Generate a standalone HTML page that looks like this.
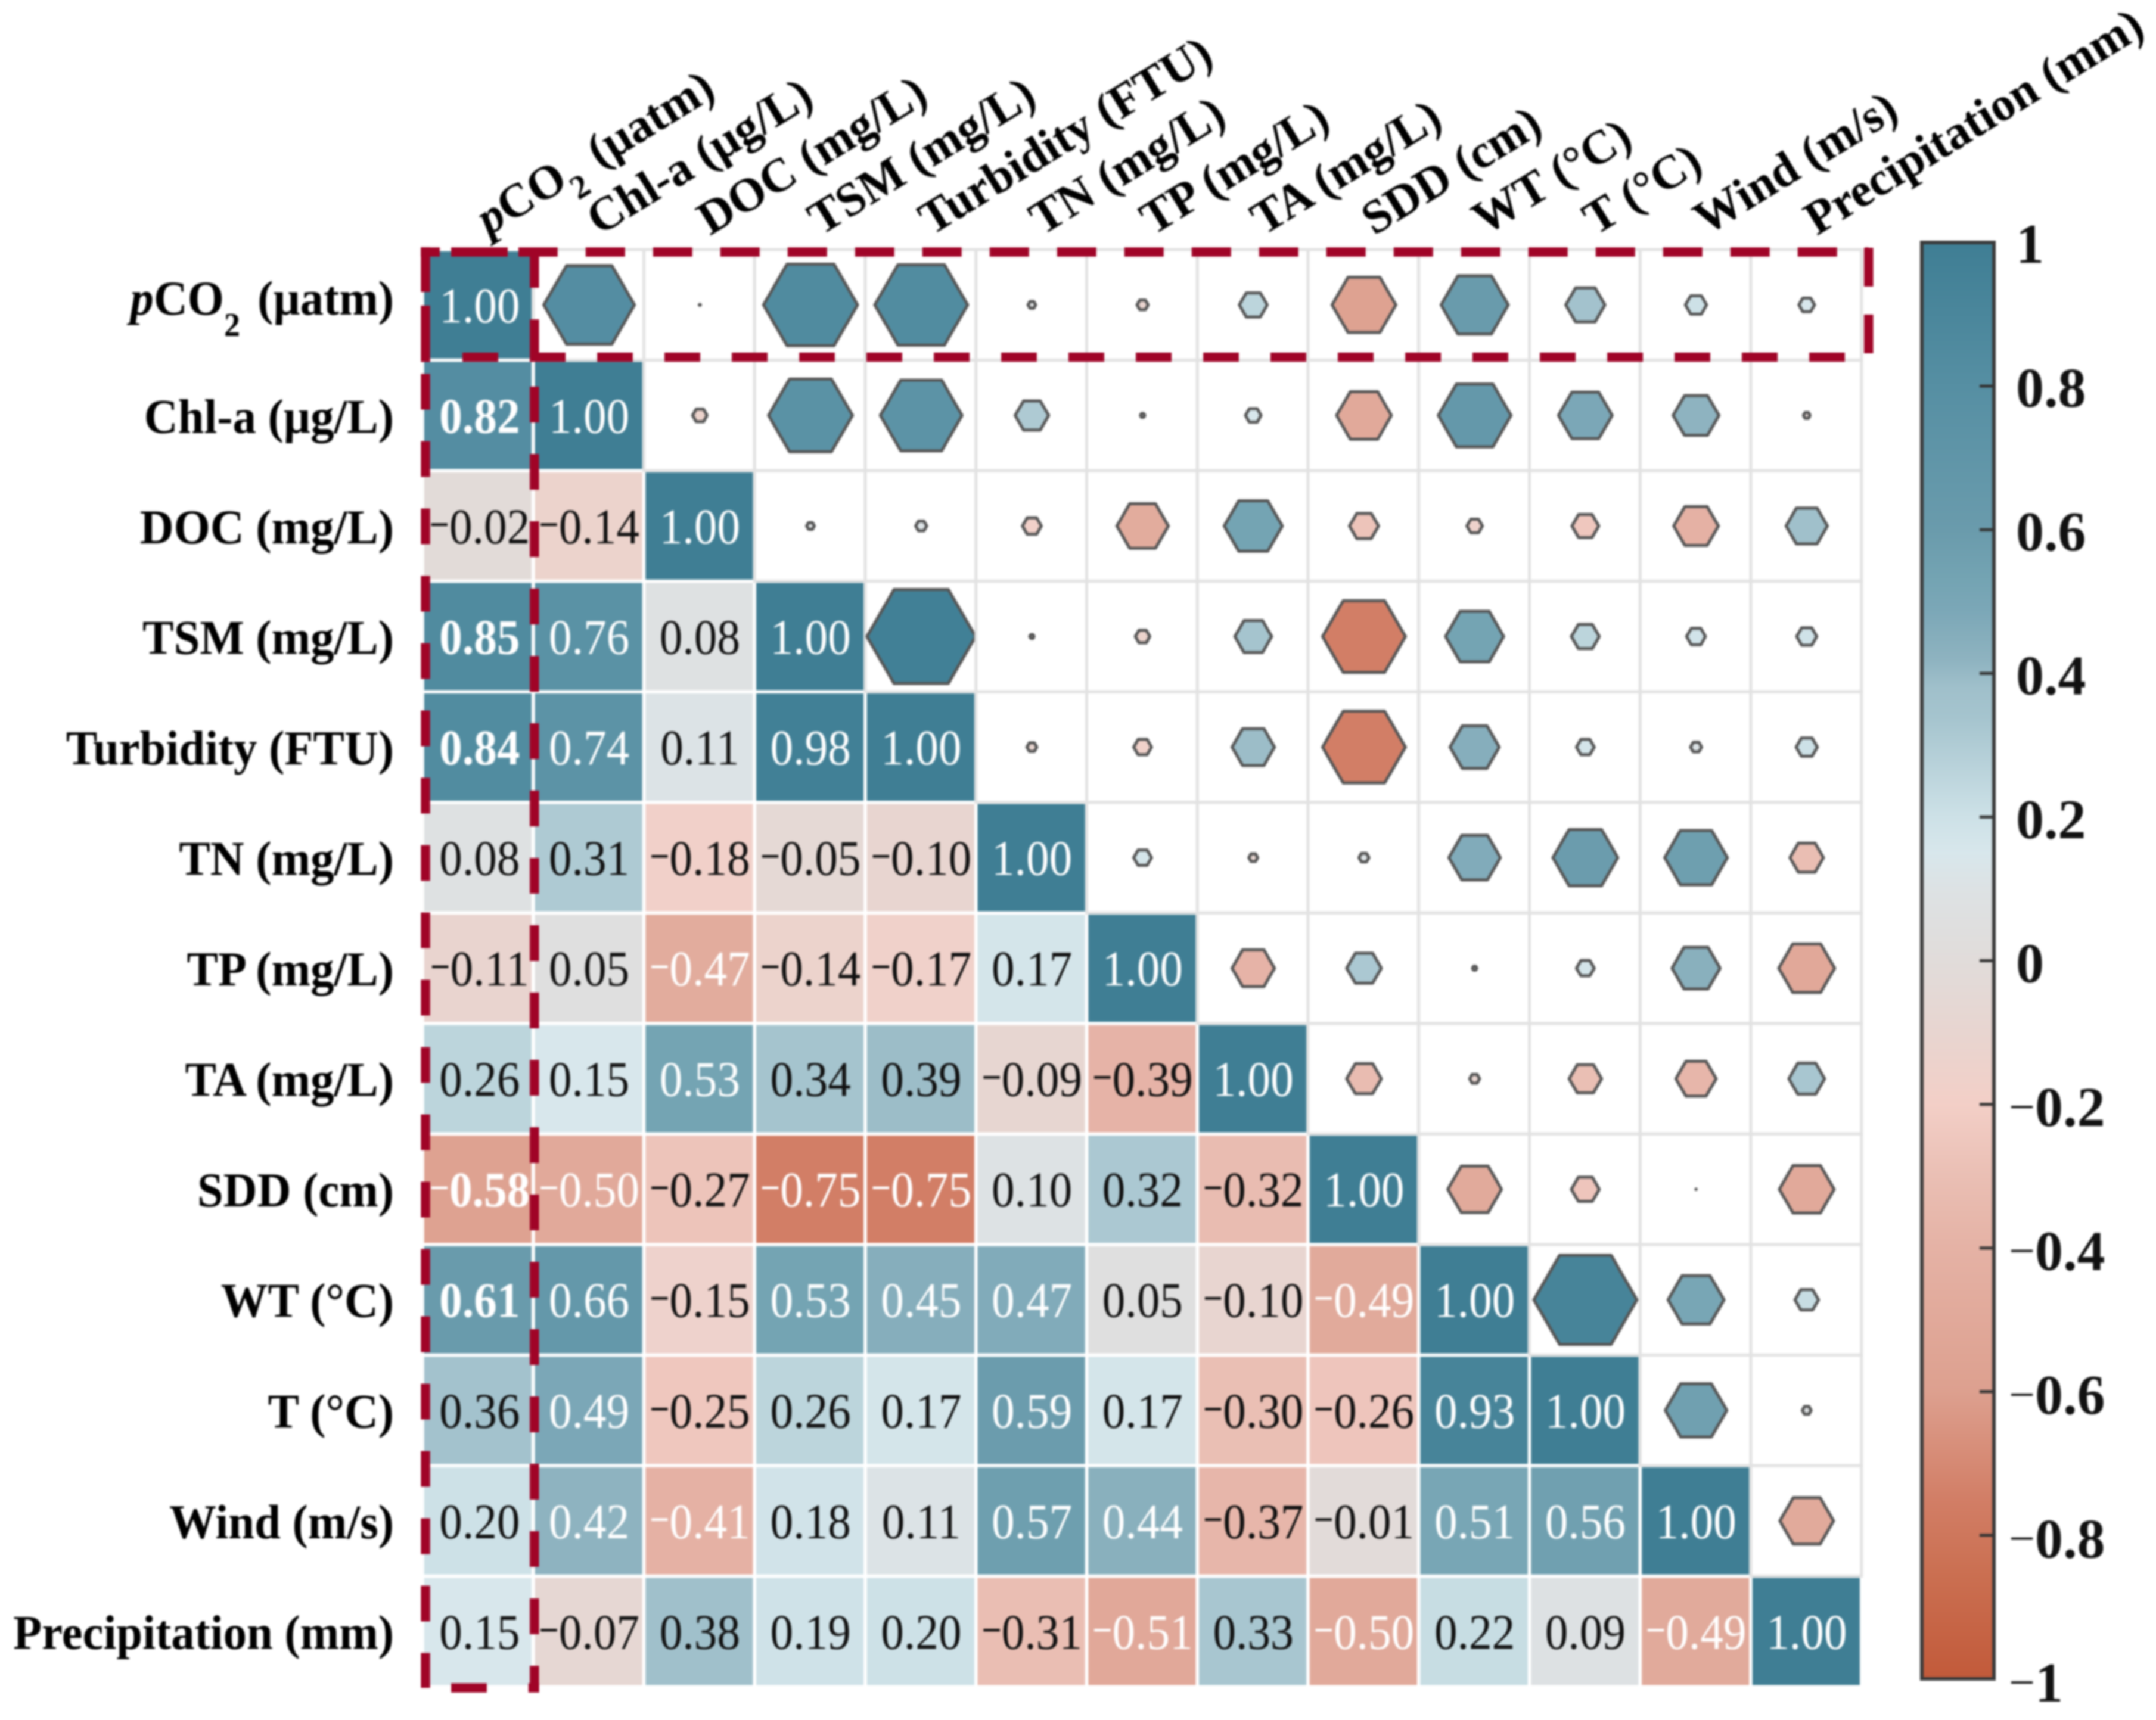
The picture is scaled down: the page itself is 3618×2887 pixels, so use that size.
<!DOCTYPE html>
<html lang="en">
<head>
<meta charset="utf-8">
<title>Correlation matrix</title>
<style>
html,body{margin:0;padding:0;background:#fff;width:3618px;height:2887px;overflow:hidden}
svg{display:block;filter:blur(1.6px)}
text{font-family:"Liberation Serif",serif}
</style>
</head>
<body>
<svg id="chart" xmlns="http://www.w3.org/2000/svg" width="3618" height="2887" viewBox="0 0 3618 2887">
  <defs>
    <linearGradient id="cbGrad" x1="0" y1="0" x2="0" y2="1"></linearGradient>
  </defs>
  <rect x="0" y="0" width="3618" height="2887" fill="#fff"></rect>
  <g id="cells"></g>
  <g id="ylabels"></g>
  <g id="xlabels"></g>
  <g id="highlight"></g>
  <g id="colorbar"></g>
</svg>
<script>
const categories = ["pCO2 (µatm)","Chl-a (µg/L)","DOC (mg/L)","TSM (mg/L)","Turbidity (FTU)","TN (mg/L)","TP (mg/L)","TA (mg/L)","SDD (cm)","WT (°C)","T (°C)","Wind (m/s)","Precipitation (mm)"];
const rowPco2 = [1];
const rowChla = [0.82,1];
const rowDoc = [-0.02,-0.14,1];
const rowTsm = [0.85,0.76,0.08,1];
const rowTurbidity = [0.84,0.74,0.11,0.98,1];
const rowTn = [0.08,0.31,-0.18,-0.05,-0.10,1];
const rowTp = [-0.11,0.05,-0.47,-0.14,-0.17,0.17,1];
const rowTa = [0.26,0.15,0.53,0.34,0.39,-0.09,-0.39,1];
const rowSdd = [-0.58,-0.50,-0.27,-0.75,-0.75,0.10,0.32,-0.32,1];
const rowWt = [0.61,0.66,-0.15,0.53,0.45,0.47,0.05,-0.10,-0.49,1];
const rowT = [0.36,0.49,-0.25,0.26,0.17,0.59,0.17,-0.30,-0.26,0.93,1];
const rowWind = [0.20,0.42,-0.41,0.18,0.11,0.57,0.44,-0.37,-0.01,0.51,0.56,1];
const rowPrecip = [0.15,-0.07,0.38,0.19,0.20,-0.31,-0.51,0.33,-0.50,0.22,0.09,-0.49,1];
const lowerTriangle = [rowPco2,rowChla,rowDoc,rowTsm,rowTurbidity,rowTn,rowTp,rowTa,rowSdd,rowWt,rowT,rowWind,rowPrecip];
const boldFirstColumnRows = [1,3,4,8,9];
const colorbarTicks = [1,0.8,0.6,0.4,0.2,0,-0.2,-0.4,-0.6,-0.8,-1];
const colormapValues = [1,0.8,0.66,0.6,0.53,0.49,0.45,0.42,0.38,0.34,0.2,0.15,0.1,0,-0.1,-0.2,-0.3,-0.4,-0.6,-0.75,-0.85,-1];
const colormapColors = ["#3f7e94","#568fa3","#6498aa","#6a9bac","#74a4b3","#7ba7b7","#86aebc","#8eb3c0","#a0c0cb","#a5c4ce","#cde1e7","#d8e7ec","#dde2e4","#e1dcda","#e8d5d0","#f3cfc7","#eabfb4","#e5b2a5","#dda08f","#d27e66","#cb7052","#c25a3a"];

const SVGNS = "http://www.w3.org/2000/svg";
function make(tag, parent) {
  const el = document.createElementNS(SVGNS, tag);
  parent.appendChild(el);
  return el;
}
function attrs(el, o) { for (const k in o) el.setAttribute(k, o[k]); return el; }

/* axis functions */
const gridX0 = 709, cellW = 185.75, gridY0 = 419, cellH = 185.55;
function xScale(i) { return gridX0 + i * cellW; }
function yScale(i) { return gridY0 + i * cellH; }
const cbTop = 407, cbBottom = 2818, cbLeft = 3225, cbRight = 3346;
function cbY(v) { return cbTop + (1 - v) / 2 * (cbBottom - cbTop); }
function hexOuter(r) { return 94 * Math.abs(r) + 1.5; }

function hexToRgb(h) { return [1,3,5].map(i => parseInt(h.substr(i,2),16)); }
function colorOf(v) {
  for (let i = 0; i < colormapValues.length - 1; i++) {
    const a = colormapValues[i], b = colormapValues[i+1];
    if (v <= a && v >= b) {
      const t = (a - v) / (a - b);
      const ca = hexToRgb(colormapColors[i]), cb = hexToRgb(colormapColors[i+1]);
      return "rgb(" + ca.map((c,k) => Math.round(c + (cb[k]-c)*t)).join(",") + ")";
    }
  }
  return "#fff";
}
function fmt(v) { return Math.abs(v).toFixed(2); }

const cellsG = document.getElementById("cells");
const n = categories.length;

/* upper triangle first so the gray grid sits under coloured cells */
for (let r = 0; r < n; r++) {
  for (let c = r + 1; c < n; c++) {
    const v = lowerTriangle[c][r];
    const frame = make("rect", cellsG);
    attrs(frame, {x:xScale(c), y:yScale(r), width:cellW, height:cellH, fill:"#fff", stroke:"#e2e2e2", "stroke-width":5});
    
    
    const cx = xScale(c) + cellW/2 + 1, cy = yScale(r) + cellH/2;
    const R = Math.max(hexOuter(v) - 2.5, 0.3);
    const pts = [];
    for (let k = 0; k < 6; k++) {
      const a = Math.PI / 3 * k;
      pts.push((cx + R*Math.cos(a)).toFixed(1) + "," + (cy + R*Math.sin(a)).toFixed(1));
    }
    const hex = make("polygon", cellsG);
    attrs(hex, {points:pts.join(" "), fill:colorOf(v), stroke:"#555", "stroke-width":5, "stroke-linejoin":"round"});
    
    
  }
}
/* lower triangle coloured cells with values */
for (let r = 0; r < n; r++) {
  for (let c = 0; c <= r; c++) {
    const v = lowerTriangle[r][c];
    const cell = make("rect", cellsG);
    attrs(cell, {x:xScale(c)+2.8, y:yScale(r)+2.8, width:cellW-5.6, height:cellH-5.6, fill:colorOf(v)});
    
    
    const cx = xScale(c) + cellW/2 + (c === 0 ? 3 : 1), base = yScale(r) + cellH/2 + 29;
    const t = make("text", cellsG);
    attrs(t, {transform:"translate("+cx+","+base+") scale(0.92,1)", "text-anchor":"middle", "font-size":84,
      fill: Math.abs(v) >= 0.4 ? "#fff" : "#111"});
    if (c === 0 && boldFirstColumnRows.includes(r)) t.setAttribute("font-weight","bold");
    
    
    if (v < 0) {
      const m = make("tspan", t);
      attrs(m, {"font-size":64, "font-weight":"bold", dy:-10});
      m.textContent = "\u2212";
      const d = make("tspan", t);
      attrs(d, {dy:10});
      d.textContent = fmt(v);
    } else {
      t.textContent = fmt(v);
    }
  }
}

/* category label writer: handles pCO2 italic + subscript */
function writeLabel(t, label, subDrop) {
  if (label.startsWith("pCO2")) {
    const a = make("tspan", t);
    attrs(a, {"font-style":"italic"});
    a.textContent = "p";
    const b = make("tspan", t);
    b.textContent = "CO";
    const s = make("tspan", t);
    attrs(s, {"font-size":56, dy:subDrop});
    s.textContent = "2";
    const e = make("tspan", t);
    attrs(e, {dy:-subDrop, dx:10});
    e.textContent = label.slice(4);
  } else {
    t.textContent = label;
  }
}

const ylab = document.getElementById("ylabels");
categories.forEach((label, i) => {
  const base = yScale(i) + cellH/2 + (i === 0 ? 16 : 29);
  const t = make("text", ylab);
  attrs(t, {transform:"translate(661,"+base+") scale(0.96,1)", "text-anchor":"end", "font-size":82, "font-weight":"bold", fill:"#000"});
  
  
  writeLabel(t, label, 36);
});

const xlab = document.getElementById("xlabels");
categories.forEach((label, i) => {
  const px = xScale(i) + cellW/2 + 18;
  const t = make("text", xlab);
  attrs(t, {transform:"translate("+px+",396) rotate(-31.5)", "text-anchor":"start", "font-size":80, "font-weight":"bold", fill:"#000"});
  
  
  writeLabel(t, label, 28);
});

/* red dashed highlight: first column and first row */
const hi = document.getElementById("highlight");
const redLeft = xScale(0) + 5, redRight = xScale(1) + 2, redTop = yScale(0) + 4, redBottom = yScale(1) - 5;
const redEnd = yScale(n) + 2, rowEnd = xScale(n) + 12;
function redLine(x1,y1,x2,y2,dash,name) {
  const l = make("line", hi);
  attrs(l, {x1:x1, y1:y1, x2:x2, y2:y2, stroke:"#a00427", "stroke-width":15.5, "stroke-dasharray":dash});
  
  
}
redLine(redLeft-8, redTop, redRight+39, redTop, "32 19 95 18 66 2000", "highlight-top-left-edge");
redLine(redRight+86, redTop, rowEnd, redTop, "66 47", "highlight-top-edge");
redLine(redLeft+62, redBottom, rowEnd-40, redBottom, "60 53", "highlight-row-bottom-edge");
redLine(redRight, redTop, redRight, redEnd+6, "60 53", "highlight-column-right-edge");
redLine(redLeft, redTop-8, redLeft, redBottom+8, "75 23 95 2000", "highlight-top-left-side");
redLine(redLeft, redBottom+28, redLeft, redEnd, "60 53", "highlight-column-left-edge");
redLine(redRight-10, redEnd, redRight+8, redEnd, "none", "highlight-bottom-corner");
redLine(redLeft+43, redEnd, redLeft+103, redEnd, "none", "highlight-bottom-dash");
redLine(rowEnd, redTop-7, rowEnd, redBottom, "65 47", "highlight-row-right-edge");

/* colorbar */
const grad = document.getElementById("cbGrad");
colormapValues.forEach((v,i) => {
  const s = make("stop", grad);
  attrs(s, {offset:((1-v)/2*100).toFixed(2)+"%", "stop-color":colormapColors[i]});
});
const cb = document.getElementById("colorbar");
const bar = make("rect", cb);
attrs(bar, {x:cbLeft, y:cbTop, width:cbRight-cbLeft, height:cbBottom-cbTop, fill:"url(#cbGrad)", stroke:"#3a3a3a", "stroke-width":6});


colorbarTicks.forEach((v,i) => {
  if (v !== 1 && v !== -1) {
    const tk = make("line", cb);
    attrs(tk, {x1:cbRight-24, x2:cbRight, y1:cbY(v), y2:cbY(v), stroke:"#333", "stroke-width":5});
    
    
  }
  const base = cbY(v) + 34 + (1 - v) / 2 * 4;
  const t = make("text", cb);
  attrs(t, {x: v < 0 ? 3371 : 3383, y: base, "font-size":94, "font-weight":"bold", fill:"#111"});
  
  
  const s = String(Math.abs(v));
  if (v < 0) {
    const m = make("tspan", t);
    attrs(m, {"font-size":78, "font-weight":"normal", dy:-6});
    m.textContent = "\u2212";
    const d = make("tspan", t);
    attrs(d, {dy:6});
    d.textContent = s;
  } else {
    t.textContent = s;
  }
});
</script>
</body>
</html>
